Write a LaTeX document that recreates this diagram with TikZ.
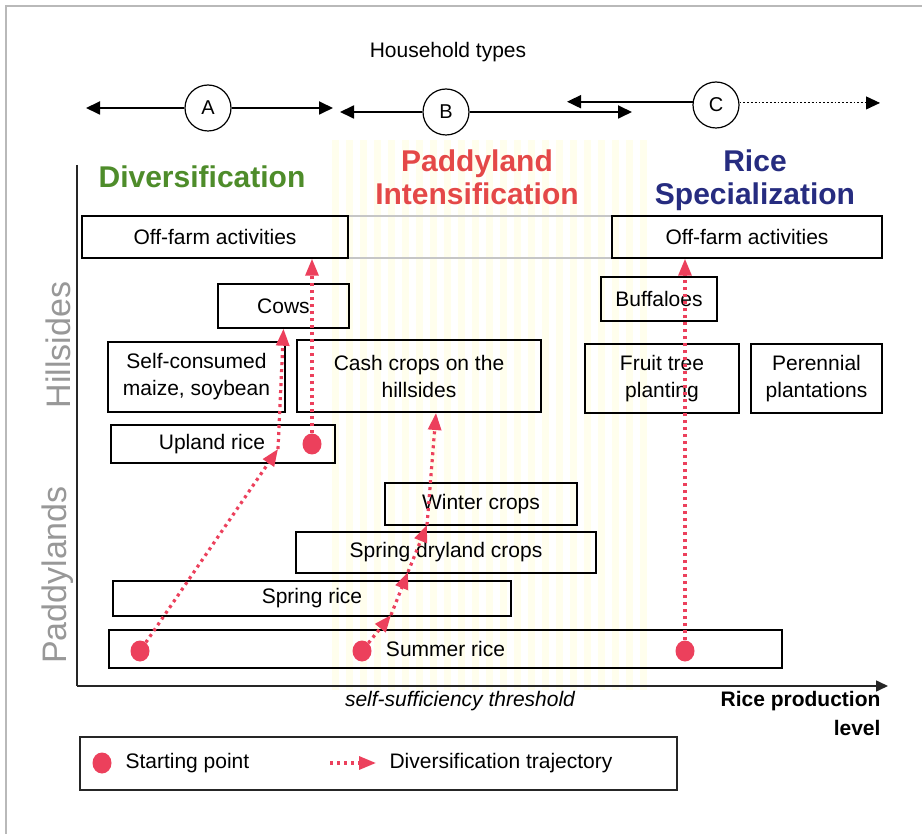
\documentclass[tikz,border=0pt]{standalone}
\usepackage{fontspec}
\setmainfont{Liberation Sans}
\usepackage{xcolor}
\usepackage{tikz}
\usetikzlibrary{positioning,calc,shapes.geometric,arrows.meta}
\definecolor{divgreen}{RGB}{78,140,42}
\definecolor{padred}{RGB}{228,72,72}
\definecolor{ricenavy}{RGB}{38,44,128}
\definecolor{trajred}{RGB}{236,64,92}
\definecolor{sidegray}{RGB}{152,152,152}
\newcommand{\boxfont}{\fontsize{21}{27}\selectfont}
\newcommand{\headfont}{\fontsize{30}{33}\selectfont\bfseries}
\tikzset{
  box/.style    = {draw, line width=1.5pt, align=center, inner sep=0pt,
                   font=\boxfont},
  emptybox/.style = {box, draw=gray!45},
  hhtype/.style = {circle, draw, line width=1.2pt, fill=white,
                   minimum size=46pt, inner sep=0pt,
                   font=\fontsize{20}{24}\selectfont},
  harrow/.style = {-{Triangle[length=14pt,width=13pt]}, line width=1.8pt},
  traj/.style   = {-{Triangle[length=17pt,width=13pt]}, draw=trajred,
                   line width=3.2pt, dash pattern=on 3pt off 4pt},
  startpt/.style = {ellipse, fill=trajred, minimum width=19pt,
                   minimum height=21pt, inner sep=0pt},
  side/.style   = {rotate=90, text=sidegray, font=\fontsize{34}{36}\selectfont},
  axis/.style   = {line width=1.6pt, draw=black!85}
}

\begin{document}
\begin{tikzpicture}[x=1pt,y=-1pt]
  \useasboundingbox (0,0) rectangle (922,834);
  \fill[white] (0,0) rectangle (922,834);
  \draw[gray!55, line width=1.5pt] (6,834) -- (6,6) -- (922,6);
  % faint background stripes
  \foreach \sx in {332,346,...,640}
    \fill[yellow!7] (\sx,140) rectangle ++(7,550);

  % household types
  \node[font=\fontsize{21}{25}\selectfont] (title) at (448,52) {Household types};
  \coordinate (aL) at (86,108);  \coordinate (aR) at (333,108);
  \coordinate (bL) at (340,112); \coordinate (bR) at (632,112);
  \coordinate (cL) at (567,101); \coordinate (cR) at (880,102);
  \node[hhtype] (A) at (208,108) {A};
  \node[hhtype] (B) at (446,112) {B};
  \node[hhtype] (C) at (716,105) {C};
  \draw[harrow] (A) -- (aL);
  \draw[harrow] (A) -- (aR);
  \draw[harrow] (B) -- (bL);
  \draw[harrow] (B) -- (bR);
  \draw[harrow] (C.172) -- (C.172 -| cL);
  \draw[harrow, dotted, line width=1pt] (C.5) -- (C.5 -| cR);

  % strategies
  \node[text=divgreen, font=\headfont] (div) at (202,177) {Diversification};
  \node[text=padred, font=\headfont, align=center] (pint) at (477,177)
    {Paddyland\\Intensification};
  \node[text=ricenavy, font=\headfont, align=center] (rspec) at (755,180)
    {Rice\\Specialization};

  % axes
  \coordinate (origin) at (77,686);
  \coordinate (ytop) at (77,165);
  \coordinate (xend) at (888,686);
  \draw[axis] (ytop) -- (origin);
  \draw[axis, -{Triangle[length=12pt,width=11pt]}] (origin) -- (xend);
  \node[side] (hills) at (58,345) {Hillsides};
  \node[side] (paddy) at (58,575) {Paddylands};
  \node[font=\boxfont\itshape] (thresh) at (460,701) {self-sufficiency threshold};
  \node[font=\fontsize{21}{29}\selectfont\bfseries, align=right,
        anchor=north east] (rplev) at (884,688) {Rice production\\level};

  % activities
  \node[emptybox, minimum width=264pt, minimum height=42pt] (offM) at (480,237) {};
  \node[box, minimum width=266pt, minimum height=42pt] (offL) at (215,237)
    {Off-farm activities};
  \node[box, minimum width=270pt, minimum height=42pt] (offR) at (747,237)
    {Off-farm activities};
  \node[box, minimum width=131pt, minimum height=44pt] (cows) at (283.5,306) {Cows};
  \node[box, minimum width=116pt, minimum height=44pt] (buff) at (659,299) {Buffaloes};
  \node[box, minimum width=177pt, minimum height=70pt] (maize) at (196.5,377)
    {Self-consumed\\maize, soybean};
  \node[box, minimum width=244pt, minimum height=72pt] (cash) at (419,376)
    {Cash crops on the\\hillsides};
  \node[box, minimum width=154pt, minimum height=69pt] (fruit) at (662,378.5)
    {Fruit tree\\planting};
  \node[box, minimum width=131pt, minimum height=69pt] (peren) at (816.5,378.5)
    {Perennial\\plantations};
  \node[box, minimum width=224pt, minimum height=38pt] (upland) at (223,444)
    {\hspace*{-22pt}Upland rice};
  \node[box, minimum width=192pt, minimum height=42pt] (winter) at (481,504)
    {Winter crops};
  \node[box, minimum width=300pt, minimum height=41pt] (sdry) at (446,552.5)
    {Spring dryland crops};
  \node[box, minimum width=398pt, minimum height=35pt] (sprice) at (312,598.5)
    {Spring rice};
  \node[box, minimum width=673pt, minimum height=38pt] (summer) at (445.5,649)
    {Summer rice};

  % trajectories
  \node[startpt] (d1) at (140,651) {};
  \node[startpt] (d2) at (362,651) {};
  \node[startpt] (d3) at (685,651) {};
  \node[startpt] (d4) at (312,444) {};
  \coordinate (t1) at (278,449);
  \coordinate (t2) at (391,615);
  \coordinate (t3) at (408,572);
  \coordinate (t4) at (427,525);
  \coordinate (t5) at (436,413);
  \draw[traj] (d1) -- (t1);
  \draw[traj] (t1) -- (cows.south);
  \draw[traj] (d4) -- (d4 |- offL.south);
  \draw[traj] (d2) -- (t2);
  \draw[traj] (t2) -- (t3);
  \draw[traj] (t3) -- (t4);
  \draw[traj] (t4) -- (t5);
  \draw[traj] (d3) -- (d3 |- offR.south);

  % legend
  \node[box, draw=black!85, minimum width=597pt, minimum height=53pt] (legend)
    at (378.5,763.5) {};
  \node[startpt] (lgdot) at (102,763) {};
  \node[font=\boxfont, anchor=west] (lgstart) at (122,763) {Starting point};
  \coordinate (lgfrom) at (330,763);
  \coordinate (lgto) at (376,763);
  \draw[traj] (lgfrom) -- (lgto);
  \node[font=\boxfont, anchor=west] (lgtraj) at (386,763) {Diversification trajectory};
\end{tikzpicture}
\end{document}
